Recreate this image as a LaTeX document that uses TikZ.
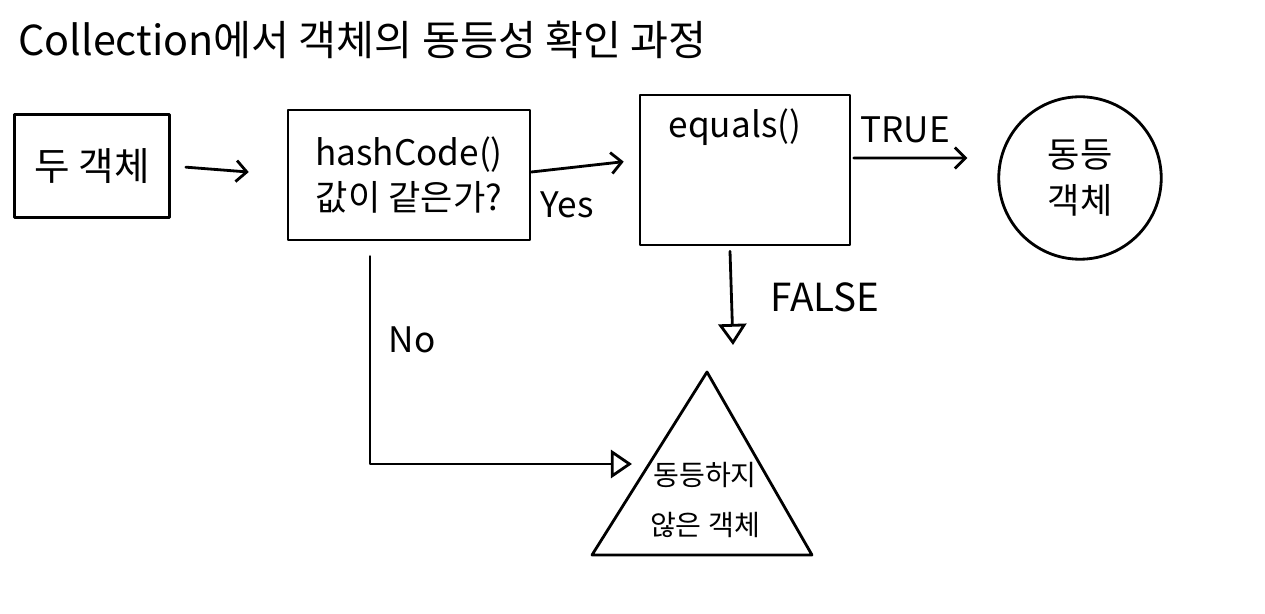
\documentclass[tikz,border=0pt]{standalone}
\usepackage{fontspec}
\setmainfont{Noto Sans CJK KR}
\usetikzlibrary{arrows.meta}
\tikzset{
  ink/.style={line width=1.6pt, line cap=round, line join=round},
  box/.style={ink, draw, rectangle, align=center, inner sep=2pt},
  txt/.style={font=\fontsize{20}{26}\selectfont, align=center},
  flow/.style={ink, -{Straight Barb[length=6pt,width=12pt]}},
  openflow/.style={ink, -{Triangle[open,length=12pt,width=16pt]}},
}
\begin{document}
\begin{tikzpicture}[x=0.02cm,y=-0.02cm]
\useasboundingbox (0,0) rectangle (1265,614);
\node[txt, anchor=west, font=\fontsize{23.5}{28}\selectfont] (title) at (12,40) {Collection에서 객체의 동등성 확인 과정};
\node[box, txt, minimum width=3.1cm, minimum height=2.06cm, font=\fontsize{22}{26}\selectfont] (b1) at (92,166) {두 객체};
\node[box, txt, minimum width=4.84cm, minimum height=2.6cm] (b2) at (409,175) {hashCode()\\값이 같은가?};
\node[box, minimum width=4.2cm, minimum height=3cm] (b3) at (745,170) {};
\node[txt, anchor=north] (b3t) at (735,103) {equals()};
\node[ink, draw, circle, minimum size=3.25cm, txt] (c) at (1080,178) {동등\\객체};
\node[txt, font=\fontsize{16}{28}\selectfont] (ne) at (705,500) {동등하지\\않은 객체};
\coordinate (tA) at (707,372);
\coordinate (tL) at (592,555);
\coordinate (tR) at (812,555);
\draw[ink] (tA) -- (tR) -- (tL) -- cycle;
\coordinate (fEnd) at (733,345);
\coordinate (nEnd) at (632,464);
\draw[flow, shorten <=0.3cm, shorten >=0.76cm] (b1.east) -- (b2.west);
\draw[flow, shorten >=0.3cm] ([yshift=0.06cm]b2.east) -- ([yshift=0.2cm]b3.west);
\draw[flow, shorten <=0.05cm, shorten >=0.6cm] ([yshift=0.24cm]b3.east) -- ([yshift=0.4cm]c.west);
\draw[openflow] ([xshift=-0.3cm,yshift=-0.1cm]b3.south) -- (fEnd);
\draw[openflow, shorten <=0.3cm] ([xshift=-0.78cm]b2.south) |- (nEnd);
\node[txt] (yes) at (567,205) {Yes};
\node[txt] (tru) at (905,130) {TRUE};
\node[txt, font=\fontsize{22}{26}\selectfont] (fal) at (825,297) {FALSE};
\node[txt] (no) at (412,340) {No};
\end{tikzpicture}
\end{document}
